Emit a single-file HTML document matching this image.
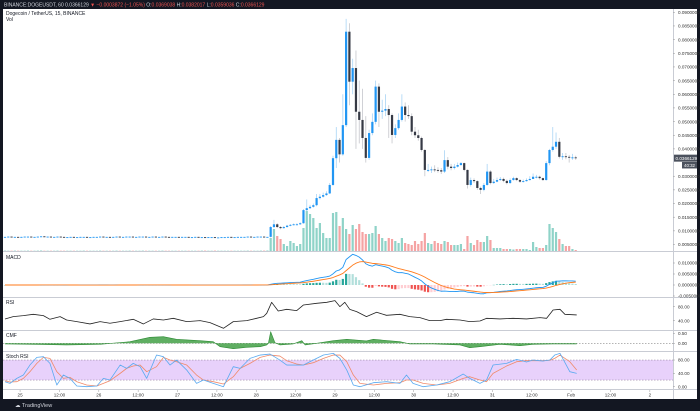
<!DOCTYPE html>
<html><head><meta charset="utf-8"><style>
html,body{margin:0;padding:0;background:#131722;}
svg{display:block;font-family:"Liberation Sans",sans-serif;}
</style></head><body>
<svg id="c" width="700" height="411" viewBox="0 0 700 411">
<rect x="0" y="0" width="700" height="411" fill="#131722"/>
<rect x="3" y="9" width="694" height="390" fill="#ffffff"/>
<text x="4" y="6.5" font-size="5" fill="#d1d4dc">BINANCE:DOGEUSDT, 60  0.0366129 <tspan fill="#ef5350">▼ −0.0003872 (−1.05%)</tspan>  O:<tspan fill="#ef5350">0.0369038</tspan> H:<tspan fill="#ef5350">0.0382017</tspan> L:<tspan fill="#ef5350">0.0359036</tspan> C:<tspan fill="#ef5350">0.0366129</tspan></text>
<text x="6" y="15" font-size="5" fill="#131722">Dogecoin / TetherUS, 15, BINANCE</text>
<text x="6" y="21" font-size="5" fill="#131722">Vol</text>
<text x="6" y="259" font-size="5" fill="#131722">MACD</text>
<text x="6" y="304" font-size="5" fill="#131722">RSI</text>
<text x="6" y="337" font-size="5" fill="#131722">CMF</text>
<text x="6" y="358" font-size="5" fill="#131722">Stoch RSI</text>
<g id="panels"></g>
<g id="marks"></g>
<g id="axis"></g>
<text x="15" y="407" font-size="5.5" fill="#d1d4dc">☁ TradingView</text>
</svg>
<script>
const flatCloses=[0.0078,0.0079,0.0078,0.0078,0.0077,0.0078,0.0079,0.0079,0.0078,0.0078,0.0079,0.0080,0.0079,0.0079,0.0078,0.0078,0.0079,0.0078,0.0077,0.0077,0.0078,0.0077,0.0077,0.0078,0.0078,0.0077,0.0077,0.0078,0.0078,0.0079,0.0078,0.0078,0.0077,0.0078,0.0079,0.0078,0.0078,0.0079,0.0079,0.0078,0.0078,0.0079,0.0079,0.0078,0.0078,0.0079,0.0078,0.0078,0.0079,0.0078,0.0077,0.0078,0.0078,0.0077,0.0078,0.0078,0.0077,0.0077,0.0078,0.0077,0.0077,0.0076,0.0077,0.0077,0.0076,0.0076,0.0077,0.0077,0.0078,0.0077,0.0077,0.0078,0.0078,0.0078,0.0079,0.0078,0.0078,0.0079,0.0079,0.0078,0.0078];
const activeCloses=[0.0114,0.0124,0.0114,0.0110,0.0114,0.0119,0.0122,0.0124,0.0124,0.0128,0.0176,0.0183,0.0188,0.0194,0.0220,0.0225,0.0231,0.0237,0.0268,0.0366,0.0433,0.0380,0.0487,0.0829,0.0646,0.0696,0.0536,0.0506,0.0440,0.0367,0.0458,0.0499,0.0628,0.0536,0.0540,0.0546,0.0524,0.0451,0.0476,0.0506,0.0555,0.0524,0.0520,0.0463,
0.0450,0.0440,0.0396,0.0323,0.0323,0.0325,0.0323,0.0322,0.0317,0.0359,0.0335,0.0330,0.0335,0.0341,0.0348,0.0323,0.0268,0.0286,0.0282,0.0257,0.0250,0.0268,0.0317,0.0275,0.0280,0.0286,0.0290,0.0283,0.0275,0.0286,0.0293,0.0286,0.0280,0.0282,0.0286,0.0290,0.0298,0.0298,0.0293,0.0286,0.0348,0.0396,0.0408,0.0426,0.0371,0.0373,0.0371,0.0369,0.0369,0.0366];
const activeHighs=[0.0118,0.0140,0.0128,0.0118,0.0118,0.0122,0.0125,0.0127,0.0128,0.0131,0.0180,0.0215,0.0195,0.0200,0.0235,0.0235,0.0240,0.0245,0.0275,0.0375,0.0480,0.0440,0.0600,0.0876,0.0860,0.0730,0.0760,0.0650,0.0620,0.0520,0.0470,0.0530,0.0650,0.0640,0.0580,0.0600,0.0560,0.0530,0.0490,0.0530,0.0600,0.0570,0.0560,0.0530,
0.0480,0.0470,0.0445,0.0400,0.0345,0.0335,0.0340,0.0333,0.0330,0.0395,0.0370,0.0345,0.0345,0.0350,0.0352,0.0350,0.0325,0.0295,0.0292,0.0285,0.0262,0.0275,0.0345,0.0322,0.0290,0.0295,0.0297,0.0295,0.0288,0.0292,0.0298,0.0296,0.0290,0.0288,0.0292,0.0300,0.0310,0.0305,0.0302,0.0295,0.0355,0.0400,0.0480,0.0460,0.0440,0.0385,0.0385,0.0378,0.0382,0.0375];
const activeLows=[0.0076,0.0110,0.0110,0.0106,0.0108,0.0112,0.0117,0.0120,0.0121,0.0122,0.0126,0.0172,0.0180,0.0185,0.0190,0.0215,0.0222,0.0228,0.0235,0.0265,0.0330,0.0350,0.0375,0.0480,0.0560,0.0600,0.0400,0.0420,0.0400,0.0350,0.0360,0.0450,0.0490,0.0480,0.0510,0.0520,0.0440,0.0420,0.0440,0.0470,0.0500,0.0500,0.0510,0.0450,
0.0440,0.0430,0.0390,0.0300,0.0315,0.0312,0.0315,0.0313,0.0308,0.0312,0.0325,0.0322,0.0325,0.0332,0.0338,0.0318,0.0255,0.0262,0.0275,0.0250,0.0235,0.0245,0.0265,0.0270,0.0272,0.0278,0.0283,0.0278,0.0270,0.0272,0.0284,0.0282,0.0276,0.0277,0.0280,0.0284,0.0290,0.0292,0.0288,0.0283,0.0284,0.0340,0.0390,0.0400,0.0365,0.0360,0.0362,0.0350,0.0360,0.0360];
const flatVolume=[0.4,0.3,0.3,0.4,0.3,0.3,0.3,0.4,0.3,0.3,0.4,0.5,0.3,0.3,0.3,0.3,0.4,0.3,0.3,0.3,0.3,0.3,0.3,0.3,0.4,0.3,0.3,0.3,0.3,0.4,0.3,0.3,0.3,0.3,0.4,0.3,0.3,0.3,0.4,0.3,0.3,0.3,0.4,0.3,0.3,0.3,0.3,0.3,0.4,0.3,0.3,0.3,0.3,0.3,0.3,0.3,0.3,0.3,0.3,0.3,0.4,0.4,0.3,0.3,0.4,0.3,0.3,0.3,0.3,0.3,0.3,0.3,0.3,0.3,0.4,0.3,0.3,0.3,0.4,0.4,0.5];
const activeVolume=[13,22,15,12,7,5,10,8,5,7,23,40,37,33,23,28,18,13,13,38,39,25,33,22,17,26,22,27,19,17,17,18,25,17,13,10,13,12,10,8,13,8,7,6,
10,7,10,18,8,7,10,8,7,10,9,6,6,6,7,2,15,8,6,11,9,9,15,11,3,3,3,2,2,2,1.5,2,2,2,2,1,9,4,3,3,6,27,23,19,12,7,5,5,2,1];
const rsiHours=[0,2.5,5.6,8.6,11.7,13.7,16.8,18.8,21.9,25.9,29,32,35.1,39.1,42.2,45.2,48.3,51.3,55.4,59.5,62.5,66.6,69.6,73.7,76.7,78.8,79.8,81.3,83.3,85.9,88.9,91,95,98.1,100.6,102.1,103.6,105.1,107.2,110.2,113.3,116.3,120.4,123.4,126.5,129.5,132.6,134.6,138.7,141.7,144.8,146.8,150.9,154.9,159,163.1,165.1,167.1,169.2,170.7,174.3];
const rsiValues=[45,51.6,54.5,58.3,54.5,44,51.6,42,37.3,30.7,37.3,32.6,37.3,44,30.7,45,42,46.8,37.3,40.2,34.5,18.3,37.3,40.2,46.8,51.6,61.1,92.5,67.8,72.5,68.7,84.9,89.7,92.5,97.3,80.2,92.5,72.5,65.9,51.6,64,55.4,58.3,51.6,48.7,40.2,40.2,44,42,37.3,39.2,46.8,45,46.8,45,48.7,46.8,70.6,72.5,58.3,56.4];
const cmfHours=[0,8.6,18.8,29,38.1,44.2,48.3,52.3,59.5,63.5,65.6,69.6,73.7,77.8,79.8,80.3,81,82.3,83.8,87.9,90.5,91.5,95,100.1,104.2,110.2,112.3,120.4,123.4,130.5,138.7,141.7,144.8,150.9,157,161,167.1,174.3];
const cmfValues=[-0.03,-0.05,-0.08,-0.05,0.08,0.3,0.33,0.2,0.13,0.08,-0.17,-0.27,-0.2,-0.17,-0.08,0,0.58,0.03,-0.08,-0.03,0.13,-0.08,0,0.13,0.2,0.12,0.2,0.08,-0.03,-0.03,-0.08,-0.22,-0.17,-0.05,-0.12,-0.05,-0.03,-0.03];
const stochHours=[0,1.5,3.6,5.6,7.6,9.7,11.7,13.7,15.8,17.8,19.8,21.9,24.9,28,30,32,35.1,37.1,39.1,41.2,43.2,46.2,48.3,50.3,52.3,55.4,58.4,60.5,63.5,66.6,69.6,71.7,74.7,77.8,80.8,83.8,85.9,88.9,91,94,97.1,100.1,102.1,104.2,106.2,108.2,112.3,116.3,120.4,122.4,124.4,127.5,131.6,135.6,139.7,141.7,144.8,146.8,148.8,152.9,156,159,161,164.1,166.1,167.6,169.2,172.2,174.3];
const stochK=[15,10,25,35,65,88,90,70,5,35,25,2,0,2,25,20,65,55,70,60,25,95,90,65,80,50,10,20,10,0,60,55,85,95,98,80,65,65,65,80,95,100,85,50,5,0,12,15,10,35,10,0,5,15,38,25,10,20,65,70,82,74,80,77,80,95,100,45,40];
const stochD=[18,14,15,25,45,70,88,85,45,25,28,15,5,2,10,18,40,55,62,65,45,60,88,80,75,65,35,20,15,8,30,55,70,88,95,92,78,68,65,72,85,95,95,75,35,10,5,10,12,20,20,10,5,10,25,30,20,15,40,62,75,78,78,78,79,85,95,75,50];
const priceTicks=[0.09,0.085,0.08,0.075,0.07,0.065,0.06,0.055,0.05,0.045,0.04,0.03,0.025,0.02,0.015,0.01,0.005];
const macdTicks=[0.01,0.005,0,-0.005];
const rsiTicks=[80,40];
const cmfTicks=[0.5,0];
const stochTicks=[80,40,0];
const timeLabels=["25","12:00","26","12:00","27","12:00","28","12:00","29","12:00","30","12:00","31","12:00","Feb","12:00","2"];
const firstLabelHour=4.6;
const lastPrice=0.0366129;

const NS="http://www.w3.org/2000/svg";
function mk(tag,attrs,parent){const e=document.createElementNS(NS,tag);for(const k in attrs)e.setAttribute(k,attrs[k]);parent.appendChild(e);return e;}
const X0=5,STEP=3.28,PR=673;
const x=h=>X0+STEP*h;
const yP=v=>12.3+(0.09-v)/0.005*13.66;
const yM=v=>285-v/0.005*11;
const yR=v=>306.7+(80-v)*0.35;
const yC=v=>343.3-v*20;
const yS=v=>386.7-v*0.3333;
const yV=v=>251-v;

const panels=document.getElementById('panels'),marks=document.getElementById('marks'),axis=document.getElementById('axis');
// separators
[251.5,297.5,330.5,351.5,389.5].forEach((y,i)=>{const l=mk('line',{x1:3,x2:697,y1:y,y2:y,stroke:'#c9ccd4','stroke-width':1},panels);

});
const vl=mk('line',{x1:PR+0.5,x2:PR+0.5,y1:9,y2:399,stroke:'#c9ccd4','stroke-width':1},panels);


// stoch band
const band=mk('rect',{x:3,y:yS(80),width:PR-3,height:yS(20)-yS(80),fill:'#e6ccfb',opacity:0.9},panels);


[80,20].forEach(v=>{const l=mk('line',{x1:3,x2:PR,y1:yS(v),y2:yS(v),stroke:'#9c8aa8','stroke-width':0.6,'stroke-dasharray':'1.5,1.5'},panels);

});
const cz=mk('line',{x1:3,x2:PR,y1:yC(0),y2:yC(0),stroke:'#888','stroke-width':0.6,'stroke-dasharray':'1.5,1.5'},panels);



// candles
const closes=flatCloses.concat(activeCloses);
const volumes=flatVolume.concat(activeVolume);
const nFlat=flatCloses.length;
const opens=closes.map((c,i)=>i===0?c:closes[i-1]);
const highs=closes.map((c,i)=>i<nFlat?Math.max(c,opens[i]):activeHighs[i-nFlat]);
const lows=closes.map((c,i)=>i<nFlat?Math.min(c,opens[i]):activeLows[i-nFlat]);
closes.forEach((c,i)=>{
 const o=opens[i],up=c>=o,cx=x(i);
 const vb=mk('rect',{x:cx-1.1,y:yV(volumes[i]),width:2.2,height:volumes[i],fill:up?'#8fd3c8':'#f5a3a3'},marks);
 
 
 const w=mk('line',{x1:cx,x2:cx,y1:yP(highs[i]),y2:yP(lows[i]),stroke:up?'#a9d4f5':'#c4c6cc','stroke-width':0.8},marks);
 
 
 const t=Math.min(yP(o),yP(c)),h=Math.max(0.9,Math.abs(yP(o)-yP(c)));
 const b=mk('rect',{x:cx-1.1,y:t,width:2.2,height:h,fill:up?'#2196f3':'#363a45'},marks);
 
 
});
// MACD
function ema(arr,n){const a=2/(n+1);const out=[];arr.forEach((v,i)=>out.push(i===0?v:out[i-1]+a*(v-out[i-1])));return out;}
const e12=ema(closes,12),e26=ema(closes,26);
const macd=e12.map((v,i)=>v-e26[i]);
const sig=ema(macd,9);
const hist=macd.map((v,i)=>v-sig[i]);
hist.forEach((v,i)=>{
 const prev=i?hist[i-1]:0;
 let col=v>=0?(v>=prev?'#26a69a':'#b2dfdb'):(v<prev?'#ef5350':'#ffcdd2');
 const y0=yM(0),y1=yM(v);
 const r=mk('rect',{x:x(i)-1.1,y:Math.min(y0,y1),width:2.2,height:Math.max(0.3,Math.abs(y1-y0)),fill:col},marks);
 
 
});
function line(hs,vs,yf,col,w,name){const d=vs.map((v,i)=>(i?'L':'M')+x(hs[i]).toFixed(2)+','+yf(v).toFixed(2)).join('');
 const p=mk('path',{d:d,fill:'none',stroke:col,'stroke-width':w,'stroke-linejoin':'round'},marks);
 
 return p;}
const idx=closes.map((c,i)=>i);
line(idx,macd,yM,'#2196f3',0.9,'macd-line');
line(idx,sig,yM,'#ff7a1a',0.9,'macd-signal-line');
line(rsiHours,rsiValues,yR,'#222',0.8,'rsi-line');
// CMF area
{let d='M'+x(cmfHours[0])+','+yC(0);cmfValues.forEach((v,i)=>{d+='L'+x(cmfHours[i]).toFixed(2)+','+yC(v).toFixed(2);});d+='L'+x(cmfHours[cmfHours.length-1])+','+yC(0)+'Z';
 const a=mk('path',{d:d,fill:'#43a047',opacity:0.85},marks);
 
 }
line(cmfHours,cmfValues,yC,'#2e8b35',0.6,'cmf-line');
line(stochHours,stochD,yS,'#f08a6a',0.8,'stoch-d-line');
line(stochHours,stochK,yS,'#5aaaf0',0.8,'stoch-k-line');

// axis labels
function alabel(txt,y,name){const t=mk('text',{x:678,y:y+1.7,'font-size':4.6,fill:'#333'},axis);t.textContent=txt;
 
 
 const tk=mk('line',{x1:PR,x2:PR+2,y1:y,y2:y,stroke:'#999','stroke-width':0.5},axis);
 
 }
priceTicks.forEach(v=>alabel(v.toFixed(7),yP(v),'price-tick-label'));
macdTicks.forEach(v=>alabel(v.toFixed(7),yM(v),'macd-tick-label'));
rsiTicks.forEach(v=>alabel(v.toFixed(2),yR(v),'rsi-tick-label'));
cmfTicks.forEach(v=>alabel(v.toFixed(2),yC(v),'cmf-tick-label'));
stochTicks.forEach(v=>alabel(v.toFixed(2),yS(v),'stoch-tick-label'));
{const yy=yP(lastPrice);
 const r=mk('rect',{x:PR+1,y:yy-3.5,width:23,height:7,fill:'#4c525e'},axis);
 
 
 const t=mk('text',{x:PR+2.5,y:yy+1.7,'font-size':4.6,fill:'#fff'},axis);t.textContent=lastPrice.toFixed(7);
 
 
 const r2=mk('rect',{x:PR+9,y:yy+3.8,width:15,height:6.5,fill:'#4c525e'},axis);
 
 
 const t2=mk('text',{x:PR+11,y:yy+8.7,'font-size':4.4,fill:'#fff'},axis);t2.textContent='40:32';
 
 }
timeLabels.forEach((s,k)=>{const xx=x(firstLabelHour+12*k);
 const tk=mk('line',{x1:xx,x2:xx,y1:390,y2:392,stroke:'#999','stroke-width':0.5},axis);
 
 
 const t=mk('text',{x:xx,y:396.5,'font-size':4.6,fill:'#333','text-anchor':'middle'},axis);t.textContent=s;
 
 });
</script>
</body></html>
